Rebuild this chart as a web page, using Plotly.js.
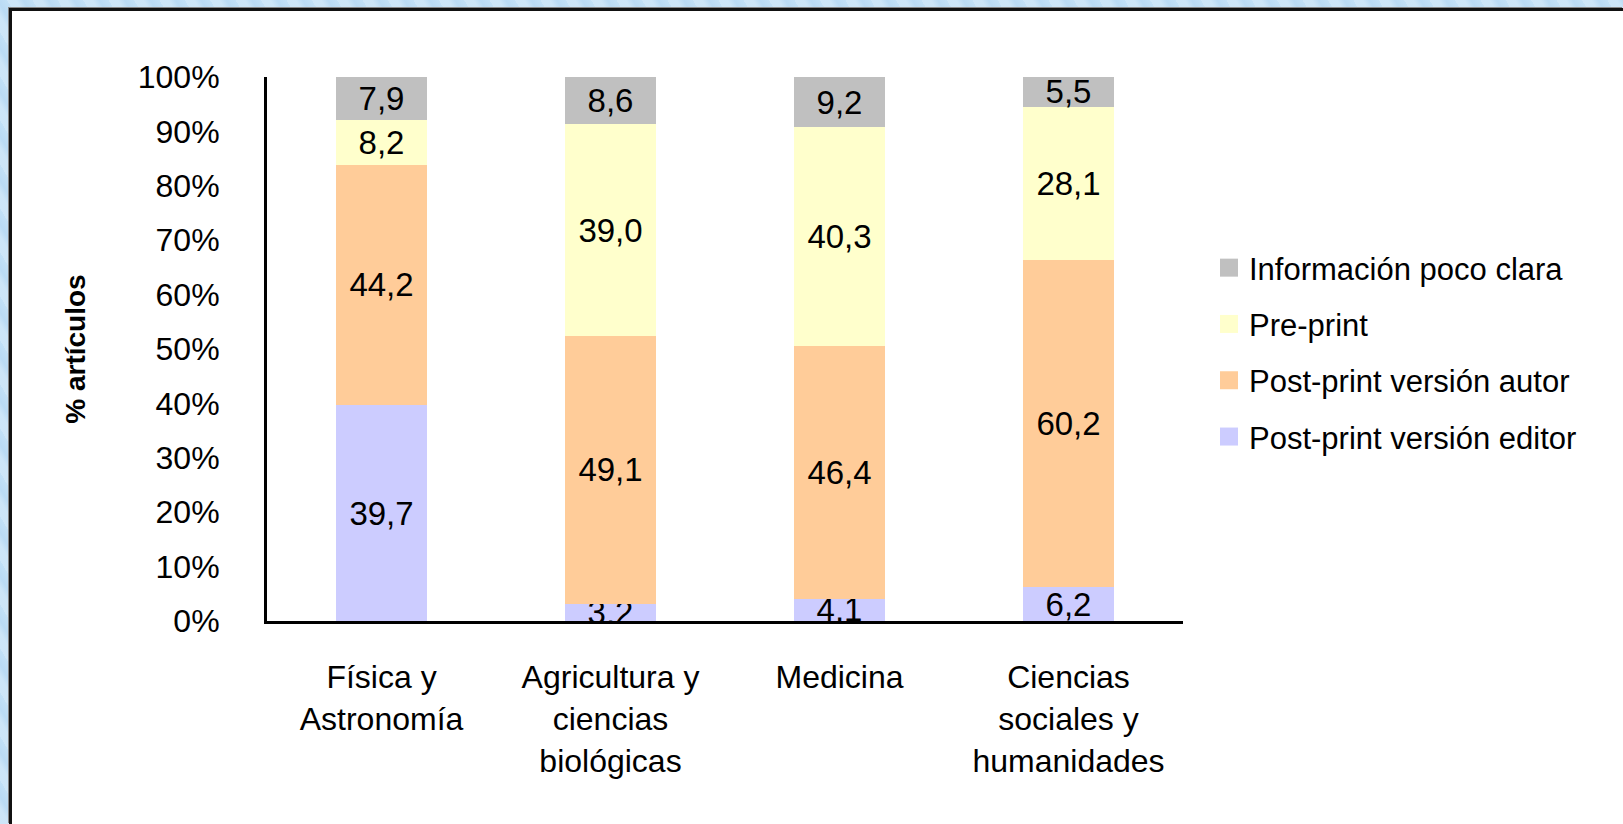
<!DOCTYPE html>
<html>
<head>
<meta charset="utf-8">
<script src="https://cdn.plot.ly/plotly-3.0.1.min.js"></script>
<style>
html, body { margin: 0; padding: 0; width: 1623px; height: 824px; overflow: hidden; }
body {
  background-color: #c2e0f6;
  background-image: repeating-linear-gradient(60deg, rgba(255,255,255,0.18) 0px, rgba(255,255,255,0.18) 8px, rgba(150,195,235,0.18) 14px, rgba(255,255,255,0) 22px);
}
#frame {
  position: absolute; left: 9px; top: 8px; right: 0; bottom: 0;
  background: #ffffff; border-left: 3px solid #111; border-top: 3px solid #111;
  box-shadow: -1px -1px 0 #888;
}
#chart { position: absolute; left: 0; top: 0; width: 1623px; height: 824px; }
</style>
</head>
<body>
<div id="frame"></div>
<div id="chart"></div>
<script>
const categories = ["Física y<br>Astronomía", "Agricultura y<br>ciencias<br>biológicas", "Medicina", "Ciencias<br>sociales y<br>humanidades"];
const seriesNames = ["Post-print versión editor", "Post-print versión autor", "Pre-print", "Información poco clara"];
const editor = [39.7, 3.2, 4.1, 6.2];
const autor = [44.2, 49.1, 46.4, 60.2];
const preprint = [8.2, 39.0, 40.3, 28.1];
const info = [7.9, 8.6, 9.2, 5.5];
const yTicks = [0, 10, 20, 30, 40, 50, 60, 70, 80, 90, 100];
const colors = ["#CCCCFF", "#FFCC99", "#FFFFCC", "#C0C0C0"];

const allSeries = [editor, autor, preprint, info];
const fmt = v => v.toFixed(1).replace('.', ',');
const FONT = "Liberation Sans, Arial, sans-serif";

const traces = allSeries.map((vals, i) => ({
  type: 'bar',
  name: seriesNames[i],
  x: categories,
  y: vals,
  text: vals.map(fmt),
  textposition: 'inside',
  insidetextanchor: 'middle',
  textangle: 0,
  constraintext: 'none',
  textfont: { family: FONT, size: 33, color: '#000000' },
  marker: { color: colors[i], line: { width: 0 } },
  legendgroup: 'g' + i,
  legendrank: allSeries.length - i,
  hoverinfo: 'name+y'
}));

const layout = {
  width: 1623, height: 824,
  paper_bgcolor: 'rgba(0,0,0,0)',
  plot_bgcolor: 'rgba(0,0,0,0)',
  barmode: 'stack',
  barnorm: 'percent',
  bargap: 0.6,
  margin: { l: 267, r: 440, t: 77, b: 203, autoexpand: false },
  font: { family: FONT, size: 31, color: '#000000' },
  showlegend: true,
  legend: {
    xref: 'container', yref: 'container',
    x: 1209 / 1623, y: 1 - 241 / 824,
    xanchor: 'left', yanchor: 'top',
    traceorder: 'grouped',
    tracegroupgap: 13,
    font: { family: FONT, size: 31, color: '#000000' },
    bgcolor: 'rgba(0,0,0,0)'
  },
  xaxis: {
    type: 'category',
    showline: true, linecolor: '#000000', linewidth: 3,
    showgrid: false, zeroline: false,
    ticks: '', ticklabelstandoff: 26,
    tickfont: { family: FONT, size: 32, color: '#000000' },
    automargin: false
  },
  yaxis: {
    range: [0, 100],
    tickvals: yTicks,
    ticktext: yTicks.map(v => v + '%'),
    showline: true, linecolor: '#000000', linewidth: 3,
    showgrid: false, zeroline: false,
    ticks: '', ticklabelstandoff: 38,
    tickfont: { family: FONT, size: 32, color: '#000000' },
    automargin: false,
    title: { text: '% artículos', font: { family: FONT, size: 28, color: '#000000', weight: 'bold' }, standoff: 44 }
  }
};

Plotly.newPlot('chart', traces, layout, { displayModeBar: false, staticPlot: true }).then(() => {
  document.querySelectorAll('.legendpoints path').forEach(p => {
    p.setAttribute('d', 'M9,9H-9V-9H9Z');
  });
});
</script>
</body>
</html>
